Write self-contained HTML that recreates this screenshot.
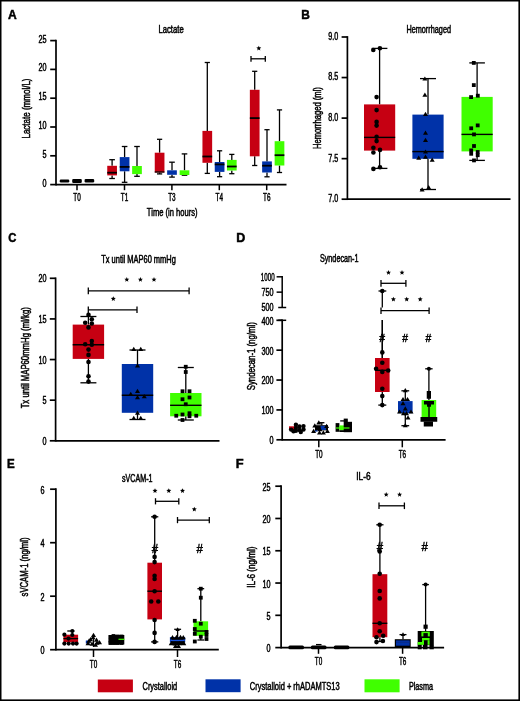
<!DOCTYPE html>
<html><head><meta charset="utf-8"><style>
html,body{margin:0;padding:0;background:#fff;}
svg{display:block;font-family:"Liberation Sans", sans-serif;-webkit-font-smoothing:antialiased;will-change:transform;}
text{stroke:#000;stroke-width:0.5px;}
</style></head><body>
<svg width="520" height="701" viewBox="0 0 520 701">
<rect width="520" height="701" fill="#fff"/>
<rect x="0" y="0" width="520" height="1.5"/><rect x="0" y="0" width="1.5" height="701"/><rect x="518.4" y="0" width="1.6" height="701"/><rect x="0" y="699.4" width="520" height="1.6"/>
<line x1="56.00" y1="39.75" x2="56.00" y2="185.45" stroke="#000" stroke-width="1.7"/>
<line x1="50.20" y1="184.60" x2="56.00" y2="184.60" stroke="#000" stroke-width="1.7"/>
<line x1="50.20" y1="155.80" x2="56.00" y2="155.80" stroke="#000" stroke-width="1.7"/>
<line x1="50.20" y1="127.00" x2="56.00" y2="127.00" stroke="#000" stroke-width="1.7"/>
<line x1="50.20" y1="98.20" x2="56.00" y2="98.20" stroke="#000" stroke-width="1.7"/>
<line x1="50.20" y1="69.40" x2="56.00" y2="69.40" stroke="#000" stroke-width="1.7"/>
<line x1="50.20" y1="40.60" x2="56.00" y2="40.60" stroke="#000" stroke-width="1.7"/>
<line x1="56.00" y1="184.60" x2="286.50" y2="184.60" stroke="#000" stroke-width="1.7"/>
<line x1="77.00" y1="184.60" x2="77.00" y2="190.20" stroke="#000" stroke-width="1.5"/>
<line x1="124.50" y1="184.60" x2="124.50" y2="190.20" stroke="#000" stroke-width="1.5"/>
<line x1="171.90" y1="184.60" x2="171.90" y2="190.20" stroke="#000" stroke-width="1.5"/>
<line x1="219.30" y1="184.60" x2="219.30" y2="190.20" stroke="#000" stroke-width="1.5"/>
<line x1="266.70" y1="184.60" x2="266.70" y2="190.20" stroke="#000" stroke-width="1.5"/>
<rect x="59.70" y="179.6" width="9.6" height="2.80" rx="1.2" fill="#000"/>
<rect x="72.20" y="178.9" width="9.6" height="4.00" rx="1.2" fill="#000"/>
<rect x="84.60" y="178.9" width="9.6" height="3.60" rx="1.2" fill="#000"/>
<line x1="112.10" y1="159.70" x2="112.10" y2="165.80" stroke="#000" stroke-width="1.3"/>
<line x1="112.10" y1="175.40" x2="112.10" y2="178.50" stroke="#000" stroke-width="1.3"/>
<line x1="109.30" y1="159.70" x2="114.90" y2="159.70" stroke="#000" stroke-width="1.3"/>
<line x1="109.30" y1="178.50" x2="114.90" y2="178.50" stroke="#000" stroke-width="1.3"/>
<rect x="107.25" y="165.80" width="9.70" height="9.60" fill="#C60012"/>
<line x1="107.25" y1="172.70" x2="116.95" y2="172.70" stroke="#000" stroke-width="1.8"/>
<line x1="124.60" y1="146.50" x2="124.60" y2="157.10" stroke="#000" stroke-width="1.3"/>
<line x1="124.60" y1="171.30" x2="124.60" y2="182.30" stroke="#000" stroke-width="1.3"/>
<line x1="121.80" y1="146.50" x2="127.40" y2="146.50" stroke="#000" stroke-width="1.3"/>
<line x1="121.80" y1="182.30" x2="127.40" y2="182.30" stroke="#000" stroke-width="1.3"/>
<rect x="119.75" y="157.10" width="9.70" height="14.20" fill="#0032A8"/>
<line x1="119.75" y1="166.90" x2="129.45" y2="166.90" stroke="#000" stroke-width="1.8"/>
<line x1="137.00" y1="146.50" x2="137.00" y2="166.00" stroke="#000" stroke-width="1.3"/>
<line x1="137.00" y1="174.10" x2="137.00" y2="176.30" stroke="#000" stroke-width="1.3"/>
<line x1="134.20" y1="146.50" x2="139.80" y2="146.50" stroke="#000" stroke-width="1.3"/>
<line x1="134.20" y1="176.30" x2="139.80" y2="176.30" stroke="#000" stroke-width="1.3"/>
<rect x="132.15" y="166.00" width="9.70" height="8.10" fill="#40FF00"/>
<line x1="159.60" y1="139.30" x2="159.60" y2="152.70" stroke="#000" stroke-width="1.3"/>
<line x1="159.60" y1="172.50" x2="159.60" y2="173.90" stroke="#000" stroke-width="1.3"/>
<line x1="157.00" y1="139.30" x2="162.20" y2="139.30" stroke="#000" stroke-width="1.3"/>
<line x1="157.00" y1="173.90" x2="162.20" y2="173.90" stroke="#000" stroke-width="1.3"/>
<rect x="154.75" y="152.70" width="9.70" height="19.80" fill="#C60012"/>
<line x1="154.75" y1="172.00" x2="164.45" y2="172.00" stroke="#000" stroke-width="1.2"/>
<line x1="172.00" y1="162.20" x2="172.00" y2="170.30" stroke="#000" stroke-width="1.3"/>
<line x1="172.00" y1="174.80" x2="172.00" y2="177.10" stroke="#000" stroke-width="1.3"/>
<line x1="169.20" y1="162.20" x2="174.80" y2="162.20" stroke="#000" stroke-width="1.3"/>
<line x1="169.20" y1="177.10" x2="174.80" y2="177.10" stroke="#000" stroke-width="1.3"/>
<rect x="167.15" y="170.30" width="9.70" height="4.50" fill="#0032A8"/>
<line x1="184.50" y1="153.90" x2="184.50" y2="170.30" stroke="#000" stroke-width="1.3"/>
<line x1="184.50" y1="175.00" x2="184.50" y2="175.20" stroke="#000" stroke-width="1.3"/>
<line x1="181.70" y1="153.90" x2="187.30" y2="153.90" stroke="#000" stroke-width="1.3"/>
<line x1="181.70" y1="175.20" x2="187.30" y2="175.20" stroke="#000" stroke-width="1.3"/>
<rect x="179.65" y="170.30" width="9.70" height="4.70" fill="#40FF00"/>
<line x1="207.30" y1="62.50" x2="207.30" y2="130.90" stroke="#000" stroke-width="1.3"/>
<line x1="207.30" y1="162.80" x2="207.30" y2="173.40" stroke="#000" stroke-width="1.3"/>
<line x1="204.70" y1="62.50" x2="209.90" y2="62.50" stroke="#000" stroke-width="1.3"/>
<line x1="204.70" y1="173.40" x2="209.90" y2="173.40" stroke="#000" stroke-width="1.3"/>
<rect x="202.45" y="130.90" width="9.70" height="31.90" fill="#C60012"/>
<line x1="202.45" y1="156.50" x2="212.15" y2="156.50" stroke="#000" stroke-width="1.8"/>
<line x1="219.60" y1="150.80" x2="219.60" y2="162.00" stroke="#000" stroke-width="1.3"/>
<line x1="219.60" y1="171.90" x2="219.60" y2="176.70" stroke="#000" stroke-width="1.3"/>
<line x1="217.00" y1="150.80" x2="222.20" y2="150.80" stroke="#000" stroke-width="1.3"/>
<line x1="217.00" y1="176.70" x2="222.20" y2="176.70" stroke="#000" stroke-width="1.3"/>
<rect x="214.75" y="162.00" width="9.70" height="9.90" fill="#0032A8"/>
<line x1="214.75" y1="164.40" x2="224.45" y2="164.40" stroke="#000" stroke-width="1.8"/>
<line x1="231.80" y1="154.40" x2="231.80" y2="159.90" stroke="#000" stroke-width="1.3"/>
<line x1="231.80" y1="170.50" x2="231.80" y2="173.70" stroke="#000" stroke-width="1.3"/>
<line x1="229.20" y1="154.40" x2="234.40" y2="154.40" stroke="#000" stroke-width="1.3"/>
<line x1="229.20" y1="173.70" x2="234.40" y2="173.70" stroke="#000" stroke-width="1.3"/>
<rect x="226.95" y="159.90" width="9.70" height="10.60" fill="#40FF00"/>
<line x1="226.95" y1="166.50" x2="236.65" y2="166.50" stroke="#000" stroke-width="1.8"/>
<line x1="254.70" y1="71.30" x2="254.70" y2="89.80" stroke="#000" stroke-width="1.3"/>
<line x1="254.70" y1="156.30" x2="254.70" y2="165.50" stroke="#000" stroke-width="1.3"/>
<line x1="252.10" y1="71.30" x2="257.30" y2="71.30" stroke="#000" stroke-width="1.3"/>
<line x1="252.10" y1="165.50" x2="257.30" y2="165.50" stroke="#000" stroke-width="1.3"/>
<rect x="249.85" y="89.80" width="9.70" height="66.50" fill="#C60012"/>
<line x1="249.85" y1="118.10" x2="259.55" y2="118.10" stroke="#000" stroke-width="1.8"/>
<line x1="267.00" y1="129.70" x2="267.00" y2="161.40" stroke="#000" stroke-width="1.3"/>
<line x1="267.00" y1="172.50" x2="267.00" y2="176.80" stroke="#000" stroke-width="1.3"/>
<line x1="264.40" y1="129.70" x2="269.60" y2="129.70" stroke="#000" stroke-width="1.3"/>
<line x1="264.40" y1="176.80" x2="269.60" y2="176.80" stroke="#000" stroke-width="1.3"/>
<rect x="262.15" y="161.40" width="9.70" height="11.10" fill="#0032A8"/>
<line x1="262.15" y1="165.70" x2="271.85" y2="165.70" stroke="#000" stroke-width="1.8"/>
<line x1="279.50" y1="109.90" x2="279.50" y2="141.20" stroke="#000" stroke-width="1.3"/>
<line x1="279.50" y1="165.50" x2="279.50" y2="172.50" stroke="#000" stroke-width="1.3"/>
<line x1="276.90" y1="109.90" x2="282.10" y2="109.90" stroke="#000" stroke-width="1.3"/>
<line x1="276.90" y1="172.50" x2="282.10" y2="172.50" stroke="#000" stroke-width="1.3"/>
<rect x="274.65" y="141.20" width="9.70" height="24.30" fill="#40FF00"/>
<line x1="274.65" y1="155.20" x2="284.35" y2="155.20" stroke="#000" stroke-width="1.8"/>
<line x1="251.00" y1="58.80" x2="265.30" y2="58.80" stroke="#000" stroke-width="1.3"/>
<line x1="251.00" y1="55.90" x2="251.00" y2="61.70" stroke="#000" stroke-width="1.3"/>
<line x1="265.30" y1="55.90" x2="265.30" y2="61.70" stroke="#000" stroke-width="1.3"/>
<polygon points="258.80,45.70 259.49,47.35 261.27,47.50 259.91,48.66 260.33,50.40 258.80,49.47 257.27,50.40 257.69,48.66 256.33,47.50 258.11,47.35"/>
<line x1="347.40" y1="36.15" x2="347.40" y2="200.05" stroke="#000" stroke-width="1.7"/>
<line x1="341.60" y1="199.20" x2="347.40" y2="199.20" stroke="#000" stroke-width="1.7"/>
<line x1="341.60" y1="158.65" x2="347.40" y2="158.65" stroke="#000" stroke-width="1.7"/>
<line x1="341.60" y1="118.10" x2="347.40" y2="118.10" stroke="#000" stroke-width="1.7"/>
<line x1="341.60" y1="77.55" x2="347.40" y2="77.55" stroke="#000" stroke-width="1.7"/>
<line x1="341.60" y1="37.00" x2="347.40" y2="37.00" stroke="#000" stroke-width="1.7"/>
<line x1="347.40" y1="199.20" x2="510.50" y2="199.20" stroke="#000" stroke-width="1.7"/>
<line x1="379.60" y1="48.40" x2="379.60" y2="104.40" stroke="#000" stroke-width="1.3"/>
<line x1="379.60" y1="150.60" x2="379.60" y2="168.40" stroke="#000" stroke-width="1.3"/>
<line x1="371.80" y1="48.40" x2="387.40" y2="48.40" stroke="#000" stroke-width="1.3"/>
<line x1="371.80" y1="168.40" x2="387.40" y2="168.40" stroke="#000" stroke-width="1.3"/>
<rect x="364.00" y="104.40" width="31.20" height="46.20" fill="#C60012"/>
<line x1="364.00" y1="137.40" x2="395.20" y2="137.40" stroke="#000" stroke-width="1.4"/>
<circle cx="379.90" cy="48.30" r="2.3"/>
<circle cx="373.30" cy="50.00" r="2.3"/>
<circle cx="376.60" cy="97.10" r="2.3"/>
<circle cx="376.60" cy="110.10" r="2.3"/>
<circle cx="376.60" cy="121.90" r="2.3"/>
<circle cx="376.60" cy="125.60" r="2.3"/>
<circle cx="376.60" cy="136.70" r="2.3"/>
<circle cx="376.60" cy="141.10" r="2.3"/>
<circle cx="373.40" cy="147.80" r="2.3"/>
<circle cx="380.00" cy="149.90" r="2.3"/>
<circle cx="373.40" cy="152.50" r="2.3"/>
<circle cx="373.40" cy="168.90" r="2.3"/>
<circle cx="380.00" cy="167.20" r="2.3"/>
<line x1="428.00" y1="78.60" x2="428.00" y2="114.60" stroke="#000" stroke-width="1.3"/>
<line x1="428.00" y1="158.80" x2="428.00" y2="189.50" stroke="#000" stroke-width="1.3"/>
<line x1="420.00" y1="78.60" x2="436.00" y2="78.60" stroke="#000" stroke-width="1.3"/>
<line x1="420.00" y1="189.50" x2="436.00" y2="189.50" stroke="#000" stroke-width="1.3"/>
<rect x="412.40" y="114.60" width="31.20" height="44.20" fill="#0032A8"/>
<line x1="412.40" y1="151.60" x2="443.60" y2="151.60" stroke="#000" stroke-width="1.4"/>
<path d="M424.90 76.38L427.40 80.58L422.40 80.58Z"/>
<path d="M424.90 92.48L427.40 96.68L422.40 96.68Z"/>
<path d="M425.50 111.68L428.00 115.88L423.00 115.88Z"/>
<path d="M425.50 130.58L428.00 134.78L423.00 134.78Z"/>
<path d="M425.50 137.78L428.00 141.98L423.00 141.98Z"/>
<path d="M425.50 149.38L428.00 153.58L423.00 153.58Z"/>
<path d="M418.70 155.48L421.20 159.68L416.20 159.68Z"/>
<path d="M425.50 154.48L428.00 158.68L423.00 158.68Z"/>
<path d="M432.20 157.48L434.70 161.68L429.70 161.68Z"/>
<path d="M422.10 187.28L424.60 191.48L419.60 191.48Z"/>
<path d="M428.70 184.98L431.20 189.18L426.20 189.18Z"/>
<line x1="477.10" y1="62.90" x2="477.10" y2="96.90" stroke="#000" stroke-width="1.3"/>
<line x1="477.10" y1="151.40" x2="477.10" y2="160.40" stroke="#000" stroke-width="1.3"/>
<line x1="469.30" y1="62.90" x2="484.90" y2="62.90" stroke="#000" stroke-width="1.3"/>
<line x1="469.30" y1="160.40" x2="484.90" y2="160.40" stroke="#000" stroke-width="1.3"/>
<rect x="461.50" y="96.90" width="31.20" height="54.50" fill="#40FF00"/>
<line x1="461.50" y1="134.40" x2="492.70" y2="134.40" stroke="#000" stroke-width="1.4"/>
<rect x="471.90" y="61.00" width="3.8" height="3.8"/>
<rect x="471.90" y="83.20" width="3.8" height="3.8"/>
<rect x="469.20" y="95.20" width="3.8" height="3.8"/>
<rect x="475.90" y="93.80" width="3.8" height="3.8"/>
<rect x="469.30" y="126.40" width="3.8" height="3.8"/>
<rect x="475.80" y="123.50" width="3.8" height="3.8"/>
<rect x="472.10" y="132.50" width="3.8" height="3.8"/>
<rect x="472.10" y="144.10" width="3.8" height="3.8"/>
<rect x="469.30" y="148.50" width="3.8" height="3.8"/>
<rect x="469.30" y="151.90" width="3.8" height="3.8"/>
<rect x="475.80" y="150.10" width="3.8" height="3.8"/>
<rect x="475.80" y="153.30" width="3.8" height="3.8"/>
<rect x="472.10" y="158.50" width="3.8" height="3.8"/>
<line x1="55.60" y1="277.45" x2="55.60" y2="441.65" stroke="#000" stroke-width="1.7"/>
<line x1="49.80" y1="440.80" x2="55.60" y2="440.80" stroke="#000" stroke-width="1.7"/>
<line x1="49.80" y1="400.18" x2="55.60" y2="400.18" stroke="#000" stroke-width="1.7"/>
<line x1="49.80" y1="359.55" x2="55.60" y2="359.55" stroke="#000" stroke-width="1.7"/>
<line x1="49.80" y1="318.93" x2="55.60" y2="318.93" stroke="#000" stroke-width="1.7"/>
<line x1="49.80" y1="278.30" x2="55.60" y2="278.30" stroke="#000" stroke-width="1.7"/>
<line x1="55.60" y1="440.80" x2="219.50" y2="440.80" stroke="#000" stroke-width="1.7"/>
<line x1="88.40" y1="316.50" x2="88.40" y2="324.60" stroke="#000" stroke-width="1.3"/>
<line x1="88.40" y1="358.90" x2="88.40" y2="382.80" stroke="#000" stroke-width="1.3"/>
<line x1="80.40" y1="316.50" x2="96.40" y2="316.50" stroke="#000" stroke-width="1.3"/>
<line x1="80.40" y1="382.80" x2="96.40" y2="382.80" stroke="#000" stroke-width="1.3"/>
<rect x="72.70" y="324.60" width="31.40" height="34.30" fill="#C60012"/>
<line x1="72.70" y1="344.80" x2="104.10" y2="344.80" stroke="#000" stroke-width="1.4"/>
<circle cx="88.50" cy="314.90" r="2.3"/>
<circle cx="91.80" cy="319.30" r="2.3"/>
<circle cx="85.20" cy="322.80" r="2.3"/>
<circle cx="91.80" cy="323.50" r="2.3"/>
<circle cx="88.50" cy="327.40" r="2.3"/>
<circle cx="91.80" cy="341.10" r="2.3"/>
<circle cx="85.20" cy="344.20" r="2.3"/>
<circle cx="91.80" cy="344.80" r="2.3"/>
<circle cx="88.50" cy="349.60" r="2.3"/>
<circle cx="88.50" cy="354.90" r="2.3"/>
<circle cx="88.50" cy="362.00" r="2.3"/>
<circle cx="88.50" cy="376.30" r="2.3"/>
<circle cx="88.50" cy="381.60" r="2.3"/>
<line x1="137.50" y1="350.00" x2="137.50" y2="364.00" stroke="#000" stroke-width="1.3"/>
<line x1="137.50" y1="412.80" x2="137.50" y2="419.50" stroke="#000" stroke-width="1.3"/>
<line x1="129.50" y1="350.00" x2="145.50" y2="350.00" stroke="#000" stroke-width="1.3"/>
<line x1="129.50" y1="419.50" x2="145.50" y2="419.50" stroke="#000" stroke-width="1.3"/>
<rect x="121.80" y="364.00" width="31.40" height="48.80" fill="#0032A8"/>
<line x1="121.80" y1="395.20" x2="153.20" y2="395.20" stroke="#000" stroke-width="1.4"/>
<path d="M133.75 346.68L136.25 350.88L131.25 350.88Z"/>
<path d="M140.75 346.68L143.25 350.88L138.25 350.88Z"/>
<path d="M137.50 363.23L140.00 367.43L135.00 367.43Z"/>
<path d="M137.50 388.73L140.00 392.93L135.00 392.93Z"/>
<path d="M130.75 391.73L133.25 395.93L128.25 395.93Z"/>
<path d="M137.50 394.98L140.00 399.18L135.00 399.18Z"/>
<path d="M144.25 393.98L146.75 398.18L141.75 398.18Z"/>
<path d="M133.75 415.73L136.25 419.93L131.25 419.93Z"/>
<path d="M137.50 410.48L140.00 414.68L135.00 414.68Z"/>
<path d="M140.75 415.73L143.25 419.93L138.25 419.93Z"/>
<line x1="185.80" y1="367.50" x2="185.80" y2="393.00" stroke="#000" stroke-width="1.3"/>
<line x1="185.80" y1="416.30" x2="185.80" y2="420.00" stroke="#000" stroke-width="1.3"/>
<line x1="177.80" y1="367.50" x2="193.80" y2="367.50" stroke="#000" stroke-width="1.3"/>
<line x1="177.80" y1="420.00" x2="193.80" y2="420.00" stroke="#000" stroke-width="1.3"/>
<rect x="170.10" y="393.00" width="31.40" height="23.30" fill="#40FF00"/>
<line x1="170.10" y1="405.30" x2="201.50" y2="405.30" stroke="#000" stroke-width="1.4"/>
<rect x="183.85" y="364.85" width="3.8" height="3.8"/>
<rect x="183.85" y="370.10" width="3.8" height="3.8"/>
<rect x="180.60" y="389.35" width="3.8" height="3.8"/>
<rect x="187.60" y="389.35" width="3.8" height="3.8"/>
<rect x="180.60" y="397.35" width="3.8" height="3.8"/>
<rect x="187.60" y="395.60" width="3.8" height="3.8"/>
<rect x="183.85" y="402.35" width="3.8" height="3.8"/>
<rect x="174.35" y="413.85" width="3.8" height="3.8"/>
<rect x="180.60" y="412.60" width="3.8" height="3.8"/>
<rect x="187.60" y="411.35" width="3.8" height="3.8"/>
<rect x="187.60" y="414.35" width="3.8" height="3.8"/>
<rect x="194.35" y="413.85" width="3.8" height="3.8"/>
<rect x="180.60" y="418.10" width="3.8" height="3.8"/>
<line x1="88.30" y1="290.90" x2="189.10" y2="290.90" stroke="#000" stroke-width="1.3"/>
<line x1="88.30" y1="287.50" x2="88.30" y2="294.30" stroke="#000" stroke-width="1.3"/>
<line x1="189.10" y1="287.50" x2="189.10" y2="294.30" stroke="#000" stroke-width="1.3"/>
<line x1="88.30" y1="309.80" x2="137.00" y2="309.80" stroke="#000" stroke-width="1.3"/>
<line x1="88.30" y1="306.60" x2="88.30" y2="313.00" stroke="#000" stroke-width="1.3"/>
<line x1="137.00" y1="306.60" x2="137.00" y2="313.00" stroke="#000" stroke-width="1.3"/>
<polygon points="126.80,277.00 127.49,278.65 129.27,278.80 127.91,279.96 128.33,281.70 126.80,280.77 125.27,281.70 125.69,279.96 124.33,278.80 126.11,278.65"/>
<polygon points="140.40,277.00 141.09,278.65 142.87,278.80 141.51,279.96 141.93,281.70 140.40,280.77 138.87,281.70 139.29,279.96 137.93,278.80 139.71,278.65"/>
<polygon points="154.00,277.00 154.69,278.65 156.47,278.80 155.11,279.96 155.53,281.70 154.00,280.77 152.47,281.70 152.89,279.96 151.53,278.80 153.31,278.65"/>
<polygon points="113.30,296.20 113.99,297.85 115.77,298.00 114.41,299.16 114.83,300.90 113.30,299.97 111.77,300.90 112.19,299.16 110.83,298.00 112.61,297.85"/>
<line x1="282.20" y1="319.45" x2="282.20" y2="440.65" stroke="#000" stroke-width="1.7"/>
<line x1="276.40" y1="439.80" x2="282.20" y2="439.80" stroke="#000" stroke-width="1.7"/>
<line x1="276.40" y1="409.93" x2="282.20" y2="409.93" stroke="#000" stroke-width="1.7"/>
<line x1="276.40" y1="380.05" x2="282.20" y2="380.05" stroke="#000" stroke-width="1.7"/>
<line x1="276.40" y1="350.18" x2="282.20" y2="350.18" stroke="#000" stroke-width="1.7"/>
<line x1="276.40" y1="320.30" x2="282.20" y2="320.30" stroke="#000" stroke-width="1.7"/>
<line x1="278.20" y1="320.30" x2="286.20" y2="320.30" stroke="#000" stroke-width="1.5"/>
<line x1="282.20" y1="276.05" x2="282.20" y2="307.50" stroke="#000" stroke-width="1.5"/>
<line x1="276.60" y1="276.80" x2="282.20" y2="276.80" stroke="#000" stroke-width="1.5"/>
<line x1="276.60" y1="292.15" x2="282.20" y2="292.15" stroke="#000" stroke-width="1.5"/>
<line x1="278.20" y1="307.50" x2="286.20" y2="307.50" stroke="#000" stroke-width="1.5"/>
<line x1="282.20" y1="439.80" x2="445.60" y2="439.80" stroke="#000" stroke-width="1.7"/>
<line x1="318.80" y1="439.80" x2="318.80" y2="447.30" stroke="#000" stroke-width="1.5"/>
<line x1="402.30" y1="439.80" x2="402.30" y2="447.30" stroke="#000" stroke-width="1.5"/>
<line x1="382.30" y1="291.00" x2="382.30" y2="307.50" stroke="#000" stroke-width="1.3"/>
<line x1="378.50" y1="291.00" x2="386.30" y2="291.00" stroke="#000" stroke-width="1.3"/>
<circle cx="382.30" cy="291.00" r="2.3"/>
<line x1="382.30" y1="320.00" x2="382.30" y2="358.00" stroke="#000" stroke-width="1.3"/>
<line x1="382.30" y1="392.00" x2="382.30" y2="405.10" stroke="#000" stroke-width="1.3"/>
<line x1="378.30" y1="405.10" x2="386.30" y2="405.10" stroke="#000" stroke-width="1.3"/>
<rect x="375.00" y="358.00" width="14.60" height="34.00" fill="#C60012"/>
<line x1="375.00" y1="370.30" x2="389.60" y2="370.30" stroke="#000" stroke-width="1.4"/>
<line x1="382.30" y1="320.00" x2="382.30" y2="358.00" stroke="#000" stroke-width="1.3"/>
<circle cx="382.30" cy="352.40" r="2.3"/>
<circle cx="382.30" cy="362.70" r="2.3"/>
<circle cx="376.10" cy="368.80" r="2.3"/>
<circle cx="382.30" cy="371.90" r="2.3"/>
<circle cx="388.20" cy="370.50" r="2.3"/>
<circle cx="382.30" cy="388.70" r="2.3"/>
<circle cx="382.30" cy="396.10" r="2.3"/>
<circle cx="382.30" cy="405.10" r="2.3"/>
<line x1="405.30" y1="390.80" x2="405.30" y2="401.10" stroke="#000" stroke-width="1.3"/>
<line x1="405.30" y1="413.20" x2="405.30" y2="425.70" stroke="#000" stroke-width="1.3"/>
<line x1="401.40" y1="390.80" x2="409.20" y2="390.80" stroke="#000" stroke-width="1.3"/>
<line x1="401.40" y1="425.70" x2="409.20" y2="425.70" stroke="#000" stroke-width="1.3"/>
<rect x="398.00" y="401.10" width="14.60" height="12.10" fill="#0032A8"/>
<path d="M405.30 387.98L407.80 392.18L402.80 392.18Z"/>
<path d="M403.00 396.88L405.50 401.08L400.50 401.08Z"/>
<path d="M407.50 396.88L410.00 401.08L405.00 401.08Z"/>
<path d="M403.00 401.08L405.50 405.28L400.50 405.28Z"/>
<path d="M405.30 406.18L407.80 410.38L402.80 410.38Z"/>
<path d="M399.50 409.38L402.00 413.58L397.00 413.58Z"/>
<path d="M411.00 409.38L413.50 413.58L408.50 413.58Z"/>
<path d="M403.50 410.98L406.00 415.18L401.00 415.18Z"/>
<path d="M406.50 410.98L409.00 415.18L404.00 415.18Z"/>
<path d="M408.00 415.18L410.50 419.38L405.50 419.38Z"/>
<path d="M405.30 422.98L407.80 427.18L402.80 427.18Z"/>
<line x1="428.90" y1="368.80" x2="428.90" y2="400.00" stroke="#000" stroke-width="1.3"/>
<line x1="428.90" y1="417.00" x2="428.90" y2="417.00" stroke="#000" stroke-width="1.3"/>
<line x1="425.20" y1="368.80" x2="432.60" y2="368.80" stroke="#000" stroke-width="1.3"/>
<line x1="425.20" y1="417.00" x2="432.60" y2="417.00" stroke="#000" stroke-width="1.3"/>
<rect x="421.60" y="400.00" width="14.60" height="17.00" fill="#40FF00"/>
<circle cx="428.90" cy="368.80" r="2.0"/>
<rect x="426.75" y="391.00" width="4.25" height="7.75" fill="#000"/>
<rect x="424.00" y="401.00" width="10.00" height="3.50" fill="#000"/>
<rect x="427.00" y="404.00" width="4.00" height="2.75" fill="#000"/>
<line x1="429.00" y1="406.00" x2="429.00" y2="417.00" stroke="#000" stroke-width="1.4"/>
<rect x="420.50" y="417.00" width="16.75" height="4.75" fill="#000"/>
<rect x="423.75" y="421.50" width="9.25" height="5.00" fill="#000"/>
<rect x="289.00" y="426.30" width="8.00" height="3.00" fill="#C60012"/>
<circle cx="291.10" cy="429.60" r="2.2"/>
<circle cx="295.90" cy="424.70" r="2.2"/>
<circle cx="295.90" cy="428.00" r="2.2"/>
<circle cx="295.90" cy="430.70" r="2.2"/>
<circle cx="300.80" cy="432.00" r="2.2"/>
<circle cx="303.50" cy="426.10" r="2.2"/>
<circle cx="303.50" cy="429.50" r="2.2"/>
<circle cx="299.50" cy="426.50" r="2.2"/>
<circle cx="299.50" cy="430.00" r="2.2"/>
<circle cx="293.50" cy="431.20" r="2.2"/>
<rect x="315.00" y="425.20" width="13.00" height="5.20" fill="#000"/>
<rect x="320.60" y="425.80" width="5.40" height="4.20" fill="#0032A8"/>
<rect x="315.00" y="430.00" width="2.50" height="1.60" fill="#0032A8"/>
<line x1="321.80" y1="422.70" x2="321.80" y2="425.20" stroke="#000" stroke-width="1.3"/>
<line x1="319.60" y1="422.70" x2="324.40" y2="422.70" stroke="#000" stroke-width="1.3"/>
<path d="M318.80 420.28L321.30 424.48L316.30 424.48Z"/>
<path d="M314.80 423.28L317.30 427.48L312.30 427.48Z"/>
<path d="M317.00 426.08L319.50 430.28L314.50 430.28Z"/>
<path d="M313.60 428.68L316.10 432.88L311.10 432.88Z"/>
<path d="M319.50 430.28L322.00 434.48L317.00 434.48Z"/>
<path d="M323.40 430.28L325.90 434.48L320.90 434.48Z"/>
<path d="M327.40 428.68L329.90 432.88L324.90 432.88Z"/>
<path d="M326.60 423.68L329.10 427.88L324.10 427.88Z"/>
<path d="M320.00 426.98L322.50 431.18L317.50 431.18Z"/>
<rect x="335.60" y="423.10" width="3.80" height="8.70" fill="#000"/>
<rect x="339.40" y="425.40" width="4.60" height="5.00" fill="#40FF00"/>
<rect x="339.40" y="430.20" width="4.60" height="1.80" fill="#000"/>
<rect x="343.70" y="421.80" width="8.30" height="10.40" fill="#000"/>
<rect x="343.70" y="418.60" width="4.10" height="3.40" fill="#000"/>
<line x1="340.20" y1="420.90" x2="347.20" y2="420.90" stroke="#000" stroke-width="1.3"/>
<line x1="336.00" y1="428.00" x2="349.50" y2="428.00" stroke="#40FF00" stroke-width="1.2"/>
<line x1="381.00" y1="283.30" x2="405.90" y2="283.30" stroke="#000" stroke-width="1.3"/>
<line x1="381.00" y1="279.90" x2="381.00" y2="286.70" stroke="#000" stroke-width="1.3"/>
<line x1="405.90" y1="279.90" x2="405.90" y2="286.70" stroke="#000" stroke-width="1.3"/>
<line x1="381.00" y1="310.70" x2="429.10" y2="310.70" stroke="#000" stroke-width="1.3"/>
<line x1="381.00" y1="307.40" x2="381.00" y2="314.00" stroke="#000" stroke-width="1.3"/>
<line x1="429.10" y1="307.40" x2="429.10" y2="314.00" stroke="#000" stroke-width="1.3"/>
<polygon points="388.50,270.00 389.19,271.65 390.97,271.80 389.61,272.96 390.03,274.70 388.50,273.77 386.97,274.70 387.39,272.96 386.03,271.80 387.81,271.65"/>
<polygon points="402.00,270.00 402.69,271.65 404.47,271.80 403.11,272.96 403.53,274.70 402.00,273.77 400.47,274.70 400.89,272.96 399.53,271.80 401.31,271.65"/>
<polygon points="393.40,296.70 394.09,298.35 395.87,298.50 394.51,299.66 394.93,301.40 393.40,300.47 391.87,301.40 392.29,299.66 390.93,298.50 392.71,298.35"/>
<polygon points="406.70,296.70 407.39,298.35 409.17,298.50 407.81,299.66 408.23,301.40 406.70,300.47 405.17,301.40 405.59,299.66 404.23,298.50 406.01,298.35"/>
<polygon points="420.20,296.70 420.89,298.35 422.67,298.50 421.31,299.66 421.73,301.40 420.20,300.47 418.67,301.40 419.09,299.66 417.73,298.50 419.51,298.35"/>
<line x1="55.90" y1="488.35" x2="55.90" y2="650.55" stroke="#000" stroke-width="1.7"/>
<line x1="50.10" y1="649.70" x2="55.90" y2="649.70" stroke="#000" stroke-width="1.7"/>
<line x1="50.10" y1="596.20" x2="55.90" y2="596.20" stroke="#000" stroke-width="1.7"/>
<line x1="50.10" y1="542.70" x2="55.90" y2="542.70" stroke="#000" stroke-width="1.7"/>
<line x1="50.10" y1="489.20" x2="55.90" y2="489.20" stroke="#000" stroke-width="1.7"/>
<line x1="55.90" y1="649.70" x2="218.80" y2="649.70" stroke="#000" stroke-width="1.7"/>
<line x1="93.50" y1="649.70" x2="93.50" y2="657.00" stroke="#000" stroke-width="1.5"/>
<line x1="177.50" y1="649.70" x2="177.50" y2="657.00" stroke="#000" stroke-width="1.5"/>
<line x1="154.70" y1="516.80" x2="154.70" y2="562.70" stroke="#000" stroke-width="1.3"/>
<line x1="154.70" y1="619.40" x2="154.70" y2="641.90" stroke="#000" stroke-width="1.3"/>
<line x1="151.10" y1="516.80" x2="158.30" y2="516.80" stroke="#000" stroke-width="1.3"/>
<line x1="151.10" y1="641.90" x2="158.30" y2="641.90" stroke="#000" stroke-width="1.3"/>
<rect x="147.40" y="562.70" width="14.60" height="56.70" fill="#C60012"/>
<line x1="147.40" y1="591.20" x2="162.00" y2="591.20" stroke="#000" stroke-width="1.4"/>
<circle cx="154.60" cy="516.80" r="2.3"/>
<circle cx="154.60" cy="556.90" r="2.3"/>
<circle cx="154.60" cy="562.10" r="2.3"/>
<circle cx="154.60" cy="575.80" r="2.3"/>
<circle cx="154.60" cy="579.00" r="2.3"/>
<circle cx="154.60" cy="591.20" r="2.3"/>
<circle cx="151.20" cy="601.50" r="2.3"/>
<circle cx="158.30" cy="601.50" r="2.3"/>
<circle cx="154.60" cy="620.00" r="2.3"/>
<circle cx="154.60" cy="632.90" r="2.3"/>
<circle cx="154.60" cy="641.90" r="2.3"/>
<line x1="177.60" y1="629.30" x2="177.60" y2="637.10" stroke="#000" stroke-width="1.3"/>
<line x1="174.20" y1="629.30" x2="181.10" y2="629.30" stroke="#000" stroke-width="1.3"/>
<path d="M177.60 627.32L179.80 631.12L175.40 631.12Z"/>
<rect x="169.90" y="637.10" width="15.30" height="5.30" fill="#0032A8"/>
<rect x="171.60" y="637.60" width="11.90" height="2.30" fill="#000"/>
<rect x="171.00" y="641.20" width="13.60" height="3.80" fill="#000"/>
<path d="M172.50 635.08L175.00 639.28L170.00 639.28Z"/>
<path d="M176.50 634.68L179.00 638.88L174.00 638.88Z"/>
<path d="M180.50 634.68L183.00 638.88L178.00 638.88Z"/>
<path d="M183.30 635.08L185.80 639.28L180.80 639.28Z"/>
<path d="M171.20 641.08L173.70 645.28L168.70 645.28Z"/>
<path d="M175.00 641.28L177.50 645.48L172.50 645.48Z"/>
<path d="M179.50 640.98L182.00 645.18L177.00 645.18Z"/>
<path d="M183.80 641.08L186.30 645.28L181.30 645.28Z"/>
<path d="M175.50 643.68L178.00 647.88L173.00 647.88Z"/>
<path d="M178.50 643.68L181.00 647.88L176.00 647.88Z"/>
<line x1="170.50" y1="640.40" x2="184.60" y2="640.40" stroke="#1a55e0" stroke-width="1.1"/>
<line x1="200.80" y1="588.70" x2="200.80" y2="621.30" stroke="#000" stroke-width="1.3"/>
<line x1="200.80" y1="635.80" x2="200.80" y2="640.00" stroke="#000" stroke-width="1.3"/>
<line x1="197.40" y1="588.70" x2="204.20" y2="588.70" stroke="#000" stroke-width="1.3"/>
<line x1="197.40" y1="640.00" x2="204.20" y2="640.00" stroke="#000" stroke-width="1.3"/>
<rect x="193.50" y="621.30" width="14.60" height="14.50" fill="#40FF00"/>
<line x1="193.50" y1="631.00" x2="208.10" y2="631.00" stroke="#000" stroke-width="1.4"/>
<rect x="198.90" y="586.80" width="3.8" height="3.8"/>
<rect x="198.90" y="595.80" width="3.8" height="3.8"/>
<rect x="192.90" y="618.90" width="3.8" height="3.8"/>
<rect x="198.90" y="621.80" width="3.8" height="3.8"/>
<rect x="192.90" y="627.10" width="3.8" height="3.8"/>
<rect x="192.90" y="631.90" width="3.8" height="3.8"/>
<rect x="204.60" y="630.00" width="3.8" height="3.8"/>
<rect x="204.60" y="637.10" width="3.8" height="3.8"/>
<rect x="198.90" y="634.80" width="3.8" height="3.8"/>
<rect x="192.90" y="639.60" width="3.8" height="3.8"/>
<rect x="204.60" y="633.10" width="3.8" height="3.8"/>
<rect x="63.40" y="634.70" width="14.70" height="7.50" fill="#C60012"/>
<line x1="63.40" y1="638.60" x2="78.10" y2="638.60" stroke="#000" stroke-width="1.3"/>
<line x1="72.30" y1="631.00" x2="72.30" y2="634.70" stroke="#000" stroke-width="1.3"/>
<line x1="67.30" y1="631.00" x2="74.50" y2="631.00" stroke="#000" stroke-width="1.3"/>
<circle cx="64.40" cy="634.70" r="2.1"/>
<circle cx="72.30" cy="631.00" r="2.1"/>
<circle cx="72.30" cy="635.00" r="2.1"/>
<circle cx="64.40" cy="643.60" r="2.1"/>
<circle cx="68.70" cy="643.60" r="2.1"/>
<circle cx="73.00" cy="643.60" r="2.1"/>
<circle cx="76.60" cy="643.60" r="2.1"/>
<circle cx="68.50" cy="638.60" r="2.1"/>
<rect x="85.80" y="640.50" width="4.00" height="3.00" fill="#0032A8"/>
<line x1="93.50" y1="635.00" x2="93.50" y2="647.00" stroke="#000" stroke-width="1.3"/>
<path d="M89.00 638.48L91.50 642.68L86.50 642.68Z"/>
<path d="M93.00 634.98L95.50 639.18L90.50 639.18Z"/>
<path d="M96.50 637.48L99.00 641.68L94.00 641.68Z"/>
<path d="M99.50 639.98L102.00 644.18L97.00 644.18Z"/>
<path d="M92.00 641.48L94.50 645.68L89.50 645.68Z"/>
<path d="M95.50 642.48L98.00 646.68L93.00 646.68Z"/>
<path d="M88.00 640.98L90.50 645.18L85.50 645.18Z"/>
<path d="M93.50 632.68L96.00 636.88L91.00 636.88Z"/>
<path d="M97.00 640.48L99.50 644.68L94.50 644.68Z"/>
<path d="M90.50 636.98L93.00 641.18L88.00 641.18Z"/>
<rect x="108.70" y="635.00" width="15.60" height="9.50" fill="#000"/>
<rect x="108.60" y="635.10" width="3.8" height="3.8"/>
<rect x="108.60" y="638.60" width="3.8" height="3.8"/>
<rect x="108.60" y="641.10" width="3.8" height="3.8"/>
<rect x="112.10" y="637.10" width="3.8" height="3.8"/>
<rect x="112.10" y="641.10" width="3.8" height="3.8"/>
<rect x="115.60" y="634.60" width="3.8" height="3.8"/>
<rect x="119.60" y="634.60" width="3.8" height="3.8"/>
<rect x="115.60" y="641.10" width="3.8" height="3.8"/>
<rect x="119.60" y="641.10" width="3.8" height="3.8"/>
<rect x="111.60" y="634.10" width="3.8" height="3.8"/>
<line x1="118.50" y1="639.30" x2="124.30" y2="639.30" stroke="#40FF00" stroke-width="1.2"/>
<line x1="155.50" y1="501.30" x2="178.80" y2="501.30" stroke="#000" stroke-width="1.3"/>
<line x1="155.50" y1="498.20" x2="155.50" y2="504.40" stroke="#000" stroke-width="1.3"/>
<line x1="178.80" y1="498.20" x2="178.80" y2="504.40" stroke="#000" stroke-width="1.3"/>
<line x1="177.50" y1="520.10" x2="209.30" y2="520.10" stroke="#000" stroke-width="1.3"/>
<line x1="177.50" y1="517.00" x2="177.50" y2="523.20" stroke="#000" stroke-width="1.3"/>
<line x1="209.30" y1="517.00" x2="209.30" y2="523.20" stroke="#000" stroke-width="1.3"/>
<polygon points="155.00,488.20 155.69,489.85 157.47,490.00 156.11,491.16 156.53,492.90 155.00,491.97 153.47,492.90 153.89,491.16 152.53,490.00 154.31,489.85"/>
<polygon points="168.80,488.20 169.49,489.85 171.27,490.00 169.91,491.16 170.33,492.90 168.80,491.97 167.27,492.90 167.69,491.16 166.33,490.00 168.11,489.85"/>
<polygon points="182.50,488.20 183.19,489.85 184.97,490.00 183.61,491.16 184.03,492.90 182.50,491.97 180.97,492.90 181.39,491.16 180.03,490.00 181.81,489.85"/>
<polygon points="194.30,506.70 194.99,508.35 196.77,508.50 195.41,509.66 195.83,511.40 194.30,510.47 192.77,511.40 193.19,509.66 191.83,508.50 193.61,508.35"/>
<line x1="281.10" y1="485.35" x2="281.10" y2="648.45" stroke="#000" stroke-width="1.7"/>
<line x1="275.30" y1="647.60" x2="281.10" y2="647.60" stroke="#000" stroke-width="1.7"/>
<line x1="275.30" y1="615.32" x2="281.10" y2="615.32" stroke="#000" stroke-width="1.7"/>
<line x1="275.30" y1="583.04" x2="281.10" y2="583.04" stroke="#000" stroke-width="1.7"/>
<line x1="275.30" y1="550.76" x2="281.10" y2="550.76" stroke="#000" stroke-width="1.7"/>
<line x1="275.30" y1="518.48" x2="281.10" y2="518.48" stroke="#000" stroke-width="1.7"/>
<line x1="275.30" y1="486.20" x2="281.10" y2="486.20" stroke="#000" stroke-width="1.7"/>
<line x1="281.10" y1="647.60" x2="444.10" y2="647.60" stroke="#000" stroke-width="1.7"/>
<line x1="318.50" y1="647.60" x2="318.50" y2="653.80" stroke="#000" stroke-width="1.5"/>
<line x1="402.60" y1="647.60" x2="402.60" y2="653.80" stroke="#000" stroke-width="1.5"/>
<line x1="379.90" y1="524.80" x2="379.90" y2="574.20" stroke="#000" stroke-width="1.3"/>
<line x1="379.90" y1="637.20" x2="379.90" y2="641.50" stroke="#000" stroke-width="1.3"/>
<line x1="376.30" y1="524.80" x2="383.50" y2="524.80" stroke="#000" stroke-width="1.3"/>
<line x1="376.30" y1="641.50" x2="383.50" y2="641.50" stroke="#000" stroke-width="1.3"/>
<rect x="372.50" y="574.20" width="14.80" height="63.00" fill="#C60012"/>
<line x1="372.50" y1="623.30" x2="387.30" y2="623.30" stroke="#000" stroke-width="1.4"/>
<circle cx="379.70" cy="524.80" r="2.3"/>
<circle cx="379.70" cy="551.40" r="2.3"/>
<circle cx="379.70" cy="573.70" r="2.3"/>
<circle cx="379.70" cy="591.00" r="2.3"/>
<circle cx="379.70" cy="598.40" r="2.3"/>
<circle cx="379.70" cy="623.30" r="2.3"/>
<circle cx="379.70" cy="631.30" r="2.3"/>
<circle cx="376.50" cy="637.20" r="2.3"/>
<circle cx="383.20" cy="635.80" r="2.3"/>
<circle cx="376.50" cy="642.10" r="2.3"/>
<circle cx="382.90" cy="641.00" r="2.3"/>
<rect x="394.80" y="639.20" width="15.90" height="8.60" fill="#000"/>
<rect x="396.00" y="640.40" width="13.70" height="5.30" fill="#0032A8"/>
<line x1="396.00" y1="642.30" x2="409.70" y2="642.30" stroke="#0a2a80" stroke-width="0.8"/>
<line x1="403.00" y1="634.60" x2="403.00" y2="639.20" stroke="#000" stroke-width="1.3"/>
<line x1="399.50" y1="634.60" x2="406.50" y2="634.60" stroke="#000" stroke-width="1.3"/>
<path d="M403.00 632.32L405.20 636.12L400.80 636.12Z"/>
<rect x="417.70" y="631.00" width="16.10" height="14.20" fill="#000"/>
<rect x="421.40" y="631.60" width="8.40" height="1.50" fill="#40FF00"/>
<rect x="421.40" y="633.00" width="2.00" height="3.40" fill="#40FF00"/>
<rect x="427.80" y="633.00" width="2.00" height="3.40" fill="#40FF00"/>
<rect x="422.00" y="638.00" width="7.60" height="2.20" fill="#40FF00"/>
<rect x="422.00" y="640.20" width="2.00" height="4.60" fill="#40FF00"/>
<rect x="427.60" y="640.20" width="2.00" height="4.60" fill="#40FF00"/>
<rect x="417.70" y="642.00" width="5.10" height="2.80" fill="#40FF00"/>
<rect x="417.70" y="645.00" width="4.00" height="4.30" fill="#000"/>
<rect x="423.00" y="645.00" width="4.50" height="4.30" fill="#000"/>
<rect x="429.50" y="645.00" width="4.30" height="4.30" fill="#000"/>
<line x1="425.60" y1="584.60" x2="425.60" y2="631.30" stroke="#000" stroke-width="1.3"/>
<line x1="422.30" y1="584.60" x2="428.90" y2="584.60" stroke="#000" stroke-width="1.3"/>
<circle cx="425.60" cy="584.60" r="2.0"/>
<rect x="423.50" y="624.60" width="4.2" height="4.2"/>
<rect x="288.40" y="645.4" width="15.6" height="3.8" rx="1.5" fill="#000"/>
<rect x="310.90" y="645.4" width="15.6" height="3.8" rx="1.5" fill="#000"/>
<rect x="333.80" y="645.4" width="15.6" height="3.8" rx="1.5" fill="#000"/>
<line x1="316.00" y1="644.60" x2="321.50" y2="644.60" stroke="#000" stroke-width="1.3"/>
<line x1="379.00" y1="505.80" x2="404.40" y2="505.80" stroke="#000" stroke-width="1.3"/>
<line x1="379.00" y1="502.50" x2="379.00" y2="509.10" stroke="#000" stroke-width="1.3"/>
<line x1="404.40" y1="502.50" x2="404.40" y2="509.10" stroke="#000" stroke-width="1.3"/>
<polygon points="386.20,492.00 386.89,493.65 388.67,493.80 387.31,494.96 387.73,496.70 386.20,495.77 384.67,496.70 385.09,494.96 383.73,493.80 385.51,493.65"/>
<polygon points="399.60,492.00 400.29,493.65 402.07,493.80 400.71,494.96 401.13,496.70 399.60,495.77 398.07,496.70 398.49,494.96 397.13,493.80 398.91,493.65"/>
<rect x="97.80" y="679.50" width="35.10" height="12.80" fill="#C60012"/>
<rect x="205.50" y="679.30" width="35.10" height="12.90" fill="#0032A8"/>
<rect x="364.50" y="679.30" width="35.10" height="13.00" fill="#40FF00"/>
<text transform="translate(7.96,18.60) scale(0.9067,1)" font-size="13.3" font-weight="bold" fill="#000" stroke-width="0.5">A</text>
<text transform="translate(158.49,32.80) scale(0.7680,1)" font-size="10.0" font-weight="normal" fill="#000">Lactate</text>
<text transform="translate(29.60,137.90) rotate(-90) translate(-0.64,0) scale(0.7638,1)" font-size="10.5" font-weight="normal" fill="#000">Lactate (mmol/L)</text>
<text transform="translate(146.85,216.40) scale(0.7369,1)" font-size="10.3" font-weight="normal" fill="#000">Time (in hours)</text>
<text transform="translate(73.33,201.30) scale(0.6200,1)" font-size="10.3" font-weight="normal" fill="#000">T0</text>
<text transform="translate(120.86,201.30) scale(0.6200,1)" font-size="10.3" font-weight="normal" fill="#000">T1</text>
<text transform="translate(168.23,201.30) scale(0.6200,1)" font-size="10.3" font-weight="normal" fill="#000">T3</text>
<text transform="translate(215.59,201.30) scale(0.6200,1)" font-size="10.3" font-weight="normal" fill="#000">T4</text>
<text transform="translate(263.03,201.30) scale(0.6200,1)" font-size="10.3" font-weight="normal" fill="#000">T6</text>
<text transform="translate(42.44,186.50) scale(0.6700,1)" font-size="10.8" font-weight="normal" fill="#000">0</text>
<text transform="translate(42.44,157.70) scale(0.6700,1)" font-size="10.8" font-weight="normal" fill="#000">5</text>
<text transform="translate(38.41,128.90) scale(0.6700,1)" font-size="10.8" font-weight="normal" fill="#000">10</text>
<text transform="translate(38.41,100.10) scale(0.6700,1)" font-size="10.8" font-weight="normal" fill="#000">15</text>
<text transform="translate(38.41,71.30) scale(0.6700,1)" font-size="10.8" font-weight="normal" fill="#000">20</text>
<text transform="translate(38.41,42.50) scale(0.6700,1)" font-size="10.8" font-weight="normal" fill="#000">25</text>
<text transform="translate(301.28,18.70) scale(0.8974,1)" font-size="13.3" font-weight="bold" fill="#000" stroke-width="0.5">B</text>
<text transform="translate(406.42,32.50) scale(0.7293,1)" font-size="10.0" font-weight="normal" fill="#000">Hemorrhaged</text>
<text transform="translate(328.29,202.10) scale(0.6700,1)" font-size="10.7" font-weight="normal" fill="#000">7.0</text>
<text transform="translate(328.29,161.55) scale(0.6700,1)" font-size="10.7" font-weight="normal" fill="#000">7.5</text>
<text transform="translate(328.29,121.00) scale(0.6700,1)" font-size="10.7" font-weight="normal" fill="#000">8.0</text>
<text transform="translate(328.29,80.45) scale(0.6700,1)" font-size="10.7" font-weight="normal" fill="#000">8.5</text>
<text transform="translate(328.29,39.90) scale(0.6700,1)" font-size="10.7" font-weight="normal" fill="#000">9.0</text>
<text transform="translate(320.60,148.50) rotate(-90) translate(-0.61,0) scale(0.7433,1)" font-size="10.3" font-weight="normal" fill="#000">Hemorrhaged (ml)</text>
<text transform="translate(8.35,242.40) scale(0.8430,1)" font-size="13.3" font-weight="bold" fill="#000" stroke-width="0.5">C</text>
<text transform="translate(101.25,262.50) scale(0.7465,1)" font-size="10.0" font-weight="normal" fill="#000">Tx until MAP60 mmHg</text>
<text transform="translate(42.54,444.80) scale(0.6700,1)" font-size="10.8" font-weight="normal" fill="#000">0</text>
<text transform="translate(42.54,404.18) scale(0.6700,1)" font-size="10.8" font-weight="normal" fill="#000">5</text>
<text transform="translate(38.51,363.55) scale(0.6700,1)" font-size="10.8" font-weight="normal" fill="#000">10</text>
<text transform="translate(38.51,322.93) scale(0.6700,1)" font-size="10.8" font-weight="normal" fill="#000">15</text>
<text transform="translate(38.51,282.30) scale(0.6700,1)" font-size="10.8" font-weight="normal" fill="#000">20</text>
<text transform="translate(29.30,408.20) rotate(-90) translate(-0.16,0) scale(0.7386,1)" font-size="10.5" font-weight="normal" fill="#000">Tx until MAP60mmHg (ml/kg)</text>
<text transform="translate(236.25,241.70) scale(0.9428,1)" font-size="13.3" font-weight="bold" fill="#000" stroke-width="0.5">D</text>
<text transform="translate(319.91,261.80) scale(0.7026,1)" font-size="10.3" font-weight="normal" fill="#000">Syndecan-1</text>
<text transform="translate(269.44,444.20) scale(0.6700,1)" font-size="10.8" font-weight="normal" fill="#000">0</text>
<text transform="translate(261.39,414.32) scale(0.6700,1)" font-size="10.8" font-weight="normal" fill="#000">100</text>
<text transform="translate(261.39,384.45) scale(0.6700,1)" font-size="10.8" font-weight="normal" fill="#000">200</text>
<text transform="translate(261.39,354.57) scale(0.6700,1)" font-size="10.8" font-weight="normal" fill="#000">300</text>
<text transform="translate(261.39,324.70) scale(0.6700,1)" font-size="10.8" font-weight="normal" fill="#000">400</text>
<text transform="translate(261.39,311.30) scale(0.6700,1)" font-size="10.8" font-weight="normal" fill="#000">500</text>
<text transform="translate(261.39,295.95) scale(0.6700,1)" font-size="10.8" font-weight="normal" fill="#000">750</text>
<text transform="translate(260.87,280.60) scale(0.5726,1)" font-size="10.8" font-weight="normal" fill="#000">1000</text>
<text transform="translate(254.80,390.00) rotate(-90) translate(-0.31,0) scale(0.7591,1)" font-size="10.3" font-weight="normal" fill="#000">Syndecan-1 (ng/ml)</text>
<text transform="translate(315.13,458.10) scale(0.6200,1)" font-size="10.3" font-weight="normal" fill="#000">T0</text>
<text transform="translate(398.63,458.10) scale(0.6200,1)" font-size="10.3" font-weight="normal" fill="#000">T6</text>
<text transform="translate(379.30,341.80) scale(0.8777,1)" font-size="11.8" font-weight="normal" fill="#000">#</text>
<text transform="translate(402.20,341.80) scale(0.8777,1)" font-size="11.8" font-weight="normal" fill="#000">#</text>
<text transform="translate(425.40,341.80) scale(0.8777,1)" font-size="11.8" font-weight="normal" fill="#000">#</text>
<text transform="translate(7.11,468.40) scale(0.8706,1)" font-size="13.3" font-weight="bold" fill="#000" stroke-width="0.5">E</text>
<text transform="translate(122.06,482.10) scale(0.7122,1)" font-size="10.0" font-weight="normal" fill="#000">sVCAM-1</text>
<text transform="translate(40.54,654.40) scale(0.6700,1)" font-size="10.8" font-weight="normal" fill="#000">0</text>
<text transform="translate(40.61,600.90) scale(0.6700,1)" font-size="10.8" font-weight="normal" fill="#000">2</text>
<text transform="translate(40.46,547.40) scale(0.6700,1)" font-size="10.8" font-weight="normal" fill="#000">4</text>
<text transform="translate(40.54,493.90) scale(0.6700,1)" font-size="10.8" font-weight="normal" fill="#000">6</text>
<text transform="translate(28.30,596.30) rotate(-90) translate(-0.15,0) scale(0.7479,1)" font-size="10.3" font-weight="normal" fill="#000">sVCAM-1 (ng/ml)</text>
<text transform="translate(89.83,668.00) scale(0.6200,1)" font-size="10.3" font-weight="normal" fill="#000">T0</text>
<text transform="translate(173.83,668.00) scale(0.6200,1)" font-size="10.3" font-weight="normal" fill="#000">T6</text>
<text transform="translate(151.80,553.00) scale(0.8791,1)" font-size="13" font-weight="normal" fill="#000">#</text>
<text transform="translate(196.40,553.00) scale(0.8791,1)" font-size="13" font-weight="normal" fill="#000">#</text>
<text transform="translate(235.63,468.40) scale(0.9688,1)" font-size="13.3" font-weight="bold" fill="#000" stroke-width="0.5">F</text>
<text transform="translate(356.25,479.90) scale(0.8328,1)" font-size="10.0" font-weight="normal" fill="#000">IL-6</text>
<text transform="translate(266.44,652.20) scale(0.6700,1)" font-size="10.8" font-weight="normal" fill="#000">0</text>
<text transform="translate(266.44,619.92) scale(0.6700,1)" font-size="10.8" font-weight="normal" fill="#000">5</text>
<text transform="translate(262.41,587.64) scale(0.6700,1)" font-size="10.8" font-weight="normal" fill="#000">10</text>
<text transform="translate(262.41,555.36) scale(0.6700,1)" font-size="10.8" font-weight="normal" fill="#000">15</text>
<text transform="translate(262.41,523.08) scale(0.6700,1)" font-size="10.8" font-weight="normal" fill="#000">20</text>
<text transform="translate(262.41,490.80) scale(0.6700,1)" font-size="10.8" font-weight="normal" fill="#000">25</text>
<text transform="translate(254.50,587.10) rotate(-90) translate(-0.73,0) scale(0.7854,1)" font-size="10.3" font-weight="normal" fill="#000">IL-6 (ng/ml)</text>
<text transform="translate(314.83,665.30) scale(0.6200,1)" font-size="10.3" font-weight="normal" fill="#000">T0</text>
<text transform="translate(398.93,665.30) scale(0.6200,1)" font-size="10.3" font-weight="normal" fill="#000">T6</text>
<text transform="translate(376.80,551.00) scale(0.8791,1)" font-size="13" font-weight="normal" fill="#000">#</text>
<text transform="translate(421.60,551.00) scale(0.8791,1)" font-size="13" font-weight="normal" fill="#000">#</text>
<text transform="translate(142.53,689.80) scale(0.7215,1)" font-size="10.3" font-weight="normal" fill="#000">Crystalloid</text>
<text transform="translate(249.82,689.70) scale(0.7284,1)" font-size="10.3" font-weight="normal" fill="#000">Crystalloid + rhADAMTS13</text>
<text transform="translate(408.92,689.70) scale(0.7032,1)" font-size="10.3" font-weight="normal" fill="#000">Plasma</text>
</svg></body></html>
